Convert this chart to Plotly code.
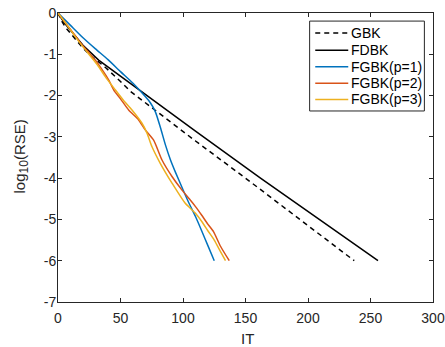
import plotly.graph_objects as go

gbk_x = [0, 3, 6, 10, 15, 20, 25, 30, 38, 50, 58, 110, 150, 200, 237]
gbk_y = [0, -0.2, -0.35, -0.5, -0.68, -0.85, -1.0, -1.12, -1.32, -1.66, -1.9, -3.1, -4.0, -5.15, -6.0]

fdbk_x = [0, 5, 10, 20, 32.5, 50, 70, 110, 162, 256]
fdbk_y = [0, -0.24, -0.42, -0.78, -1.14, -1.53, -1.98, -2.86, -4.0, -6.0]

p1_x = [0, 10, 20, 30, 40, 50, 60, 70, 74, 78, 82, 86, 90, 94, 100, 105, 110, 115, 120, 125]
p1_y = [0, -0.3, -0.6, -0.87, -1.13, -1.42, -1.7, -2.03, -2.18, -2.4, -2.78, -3.2, -3.56, -3.86,
        -4.28, -4.62, -4.93, -5.28, -5.64, -6.0]

p2_x = [0, 5, 10, 15, 20, 25, 29.8, 35, 40.5, 44.5, 50, 56.5, 64.5, 69.8, 76.5, 83.2, 91.2,
        99.2, 105, 110, 115, 120, 124.5, 130, 137]
p2_y = [0, -0.2, -0.4, -0.6, -0.8, -0.97, -1.14, -1.36, -1.62, -1.86, -2.08, -2.35, -2.59, -2.83,
        -3.08, -3.56, -3.96, -4.29, -4.5, -4.69, -4.9, -5.12, -5.3, -5.65, -6.0]

p3_x = [0, 5, 10, 15, 20, 28.5, 33, 37.8, 45.8, 52, 59.2, 67.2, 71.2, 75.2, 81.8, 91.2, 101.8,
        110, 115, 120, 125, 130, 134]
p3_y = [0, -0.2, -0.41, -0.62, -0.82, -1.14, -1.32, -1.54, -1.86, -2.1, -2.35, -2.67, -2.91,
        -3.24, -3.64, -4.12, -4.61, -4.85, -5.05, -5.28, -5.5, -5.78, -6.0]

x_ticks = [0, 50, 100, 150, 200, 250, 300]
y_ticks = [0, -1, -2, -3, -4, -5, -6, -7]

series_names = ["GBK", "FDBK", "FGBK(p=1)", "FGBK(p=2)", "FGBK(p=3)"]
series_colors = ["black", "black", "#0072BD", "#D95319", "#EDB120"]
series_dash = ["5px,4px", "solid", "solid", "solid", "solid"]
series_x = [gbk_x, fdbk_x, p1_x, p2_x, p3_x]
series_y = [gbk_y, fdbk_y, p1_y, p2_y, p3_y]

FONT = "Liberation Sans, Arial"
INK = "#262626"

fig = go.Figure()
for name, xs, ys, col, dsh in zip(series_names, series_x, series_y, series_colors, series_dash):
    fig.add_trace(go.Scatter(x=xs, y=ys, mode="lines", name=name, showlegend=False,
                             line=dict(color=col, width=1.5, dash=dsh,
                                       shape="linear" if col == "black" else "spline",
                                       smoothing=0.6)))

axis_common = dict(showgrid=False, zeroline=False, showline=True, linecolor=INK,
                   linewidth=1, mirror="ticks", ticks="inside", ticklen=4, automargin=False,
                   ticklabeloverflow="allow",
                   tickcolor=INK, tickfont=dict(family=FONT, size=14, color=INK))

fig.update_xaxes(range=[0, 300], tickvals=x_ticks, ticktext=[str(v) for v in x_ticks],
                 ticklabelstandoff=3, **axis_common)
fig.update_yaxes(range=[-7, 0], tickvals=y_ticks, ticktext=[str(v) for v in y_ticks],
                 ticklabelstandoff=-2, **axis_common)

# Custom legend box (paper coordinates)
legend_x0, legend_x1 = 0.671, 0.977
legend_y0, legend_y1 = 0.661, 0.972
entry_y = [0.931, 0.871, 0.814, 0.757, 0.701]
shapes = [dict(type="rect", xref="paper", yref="paper", x0=legend_x0, x1=legend_x1,
               y0=legend_y0, y1=legend_y1, line=dict(color=INK, width=1), fillcolor="white",
               layer="above")]
annotations = []
for name, col, dsh, ey in zip(series_names, series_colors, series_dash, entry_y):
    shapes.append(dict(type="line", xref="paper", yref="paper", x0=0.686, x1=0.774, y0=ey, y1=ey,
                       line=dict(color=col, width=1.5, dash=dsh), layer="above"))
    annotations.append(dict(xref="paper", yref="paper", x=0.777, y=ey, xanchor="left",
                            yanchor="middle", text=name, showarrow=False,
                            font=dict(family=FONT, size=14, color="black")))

# Axis titles
annotations.append(dict(xref="paper", yref="paper", x=0.504, y=-0.125, xanchor="center",
                        yanchor="middle", text="IT", showarrow=False,
                        font=dict(family=FONT, size=15, color=INK)))
annotations.append(dict(xref="paper", yref="paper", x=-0.099, y=0.503, xanchor="center",
                        yanchor="middle", textangle=-90,
                        text='log<sub><span style="font-size:12px">10</span></sub>(RSE)',
                        showarrow=False, font=dict(family=FONT, size=15, color=INK)))

fig.update_layout(
    width=445, height=347,
    margin=dict(l=58, r=12, t=13, b=45),
    plot_bgcolor="white", paper_bgcolor="white",
    showlegend=False,
    shapes=shapes, annotations=annotations,
)

fig.write_html("out.html", config={"displayModeBar": False},
               post_script="document.body.style.margin='0px';document.body.style.overflow='hidden';")
